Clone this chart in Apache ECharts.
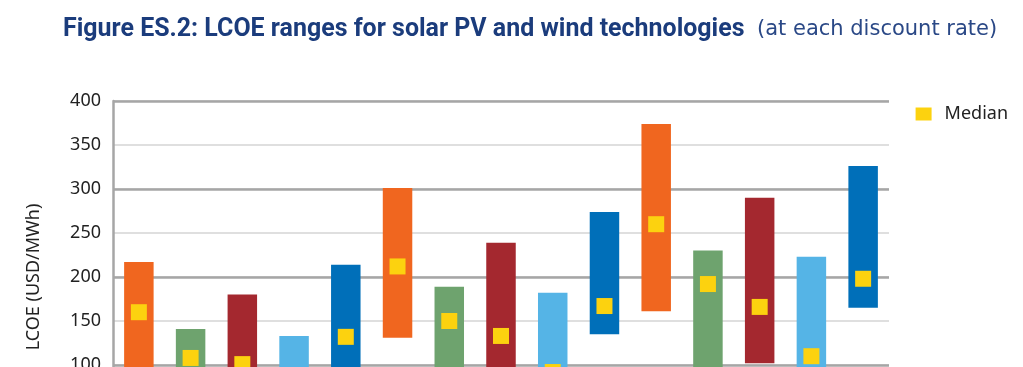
<!DOCTYPE html>
<html>
<head>
<meta charset="utf-8">
<script src="https://cdn.jsdelivr.net/npm/echarts@6/dist/echarts.min.js"></script>
<style>
html,body{margin:0;padding:0;background:#fff;}
#chart{width:1023px;height:367px;}
</style>
</head>
<body>
<div id="chart"></div>
<script>
// Categories: technology at each discount rate (3%, 7%, 10%)
const categories = [
  'Residential PV 3%', 'Commercial PV 3%', 'Large PV 3%', 'Onshore wind 3%', 'Offshore wind 3%',
  'Residential PV 7%', 'Commercial PV 7%', 'Large PV 7%', 'Onshore wind 7%', 'Offshore wind 7%',
  'Residential PV 10%', 'Commercial PV 10%', 'Large PV 10%', 'Onshore wind 10%', 'Offshore wind 10%'
];
// Range low / high (USD/MWh); lows below 100 are outside the visible picture (estimated)
const lowValues  = [95, 60, 55, 35, 95, 131, 75, 70, 45, 135, 161, 90, 102, 55, 165];
const highValues = [217, 141, 180, 133, 214, 301, 189, 239, 182, 274, 374, 230, 290, 223, 326];
const medianValues = [160, 108, 101, 75, 132, 212, 150, 133, 92, 167, 260, 192, 166, 110, 198];
const barColors = ['#f0661f', '#6ea36e', '#a4282f', '#55b4e6', '#006fb9'];
const yTicks = [0, 400, 50];
const titleMain = 'Figure ES.2: LCOE ranges for solar PV and wind technologies';
const titleSub = '(at each discount rate)';

const chart = echarts.init(document.getElementById('chart'), null, {renderer: 'canvas'});
const rangeData = highValues.map((h, i) => ({
  value: h - lowValues[i],
  itemStyle: {color: barColors[i % 5]}
}));

const option = {
  animation: false,
  backgroundColor: '#ffffff',
  graphic: [{
    type: 'text',
    left: 63,
    top: 16,
    scaleX: 0.96,
    style: {
      text: titleMain,
      font: 'bold 26px Roboto',
      fill: '#1b3c7c'
    }
  }, {
    type: 'text',
    left: 757,
    top: 19,
    style: {
      text: titleSub,
      font: '21px "DejaVu Sans"',
      fill: '#2a4886'
    }
  }],
  legend: {
    right: 10,
    top: 100,
    itemWidth: 16,
    itemHeight: 13,
    itemGap: 10,
    data: [{name: 'Median', icon: 'rect'}],
    textStyle: {fontFamily: 'Noto Sans', fontSize: 18, color: '#222', padding: [0, 0, 0, 8]}
  },
  grid: {left: 113, right: 134, top: 101, height: 352, outerBoundsMode: 'none', containLabel: false},
  xAxis: {
    type: 'category',
    data: categories,
    axisLine: {show: true, lineStyle: {color: '#a6a6a6', width: 2.5}},
    axisTick: {show: false},
    axisLabel: {show: false}
  },
  yAxis: [{
    type: 'value',
    min: yTicks[0], max: yTicks[1], interval: yTicks[2],
    name: 'LCOE (USD/MWh)',
    nameLocation: 'middle',
    nameGap: 70,
    nameTextStyle: {fontFamily: 'Noto Sans', fontSize: 18, color: '#222'},
    axisLine: {show: true, lineStyle: {color: '#a6a6a6', width: 2.5}},
    axisTick: {show: false},
    axisLabel: {fontFamily: 'Noto Sans', fontSize: 18, color: '#222', margin: 12},
    splitLine: {show: true, lineStyle: {color: '#d4d4d4', width: 1.5}}
  }, {
    type: 'value',
    position: 'left',
    min: yTicks[0], max: yTicks[1], interval: yTicks[2] * 2,
    axisLine: {show: false},
    axisTick: {show: false},
    axisLabel: {show: false},
    splitLine: {show: true, lineStyle: {color: '#a6a6a6', width: 2.5}}
  }],
  series: [{
    name: 'base',
    type: 'bar',
    stack: 'range',
    barWidth: '57%',
    itemStyle: {color: 'transparent'},
    data: lowValues,
    silent: true
  }, {
    name: 'Range',
    type: 'bar',
    stack: 'range',
    barWidth: '57%',
    data: rangeData,
    z: 3
  }, {
    name: 'Median',
    type: 'scatter',
    symbol: 'rect',
    symbolSize: 16,
    itemStyle: {color: '#fcd20f', opacity: 1},
    data: medianValues,
    z: 5
  }]
};
chart.setOption(option);
</script>
</body>
</html>
